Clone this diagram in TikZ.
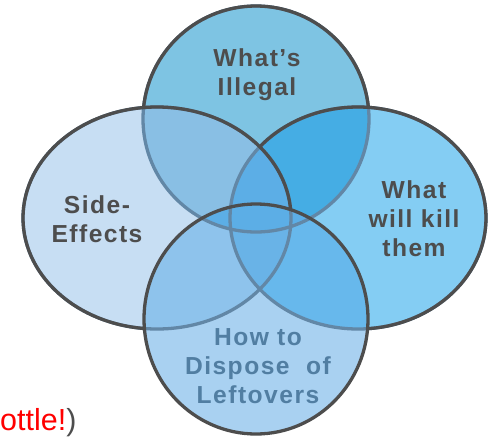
\documentclass[tikz,border=0pt]{standalone}
\usepackage{fontspec}
\setmainfont{Liberation Sans}
\newfontfamily\vennfont[LetterSpace=6.0]{Liberation Sans}

\definecolor{illegalfill}{HTML}{7EC4E3}
\definecolor{sidefill}{HTML}{C7DEF3}
\definecolor{killfill}{HTML}{84CDF3}
\definecolor{disposefill}{HTML}{A9D1F1}
\definecolor{mixTL}{HTML}{89BFE4}
\definecolor{mixTR}{HTML}{45ADE4}
\definecolor{mixLB}{HTML}{8EC3EC}
\definecolor{mixRB}{HTML}{67B8EC}
\definecolor{mixLRB}{HTML}{69B3E7}
\definecolor{mixcore}{HTML}{5CAEE6}
\definecolor{rimdark}{HTML}{4D4D4D}
\definecolor{rimfade}{HTML}{6287A6}
\definecolor{labelgray}{HTML}{4D4D4D}
\definecolor{labelblue}{HTML}{517EA2}

% the four sets, in pixel units
\def\illegalpath{(256,119) circle [radius=113]}
\def\killpath{(358,218) ellipse [x radius=128, y radius=111]}
\def\sidepath{(157,218) ellipse [x radius=134, y radius=111]}
\def\disposepath{(256,319) ellipse [x radius=112, y radius=115]}

\tikzset{
  rim/.style={line width=2.8pt},
  setlabel/.style={anchor=base, align=center, text=labelgray,
    font=\vennfont\fontsize{21}{24.7}\selectfont\bfseries}
}

\begin{document}
\begin{tikzpicture}[xscale=0.03, yscale=-0.03]
	\useasboundingbox (0,0) rectangle (492,438);

	\fill[illegalfill] \illegalpath;
	\fill[killfill] \killpath;
	\fill[sidefill] \sidepath;
	\fill[disposefill] \disposepath;

	% overlaps
	\begin{scope}
		\clip \illegalpath;
		\fill[mixTL] \sidepath;
		\fill[mixTR] \killpath;
	\end{scope}
	\begin{scope}
		\clip \disposepath;
		\fill[mixLB] \sidepath;
		\fill[mixRB] \killpath;
	\end{scope}
	\begin{scope}
		\clip \sidepath;
		\clip \killpath;
		\fill[mixLRB] \sidepath;
		\fill[mixcore] \illegalpath;
	\end{scope}
	\begin{scope}
		\clip \illegalpath;
		\fill[mixcore] \disposepath;
	\end{scope}

	% rims, faded where covered
	\draw[rim, rimfade] \illegalpath \killpath \sidepath;
	\begin{scope}[even odd rule]
		\clip (-20,-20) rectangle (520,460) (358,218) ellipse [x radius=128, y radius=111];
		\clip (-20,-20) rectangle (520,460) (157,218) ellipse [x radius=134, y radius=111];
		\clip (-20,-20) rectangle (520,460) (256,319) ellipse [x radius=112, y radius=115];
		\draw[rim, rimdark] \illegalpath;
	\end{scope}
	\begin{scope}[even odd rule]
		\clip (-20,-20) rectangle (520,460) (157,218) ellipse [x radius=134, y radius=111];
		\clip (-20,-20) rectangle (520,460) (256,319) ellipse [x radius=112, y radius=115];
		\draw[rim, rimdark] \killpath;
	\end{scope}
	\begin{scope}[even odd rule]
		\clip (-20,-20) rectangle (520,460) (256,319) ellipse [x radius=112, y radius=115];
		\draw[rim, rimdark] \sidepath;
	\end{scope}
	\draw[rim, rimdark] \disposepath;

	% base anchor sits on the last line
	\node[setlabel] (illegal) at (257, 95) {What’s\\Illegal};
	\node[setlabel] (side) at (97, 242) {Side-\\Effects};
	\node[setlabel] (kill) at (414, 256) {What\\will kill\\them};
	\node[setlabel, text=labelblue] (dispose) at (258, 403) {How to\\Dispose\ \ of\\Leftovers};

	\node[anchor=base west, inner sep=0pt, font=\fontsize{26}{30}\selectfont] (bottle) at (0, 430)
		{\textcolor{red}{ottle!}\textcolor{labelgray}{)}};

\end{tikzpicture}
\end{document}
